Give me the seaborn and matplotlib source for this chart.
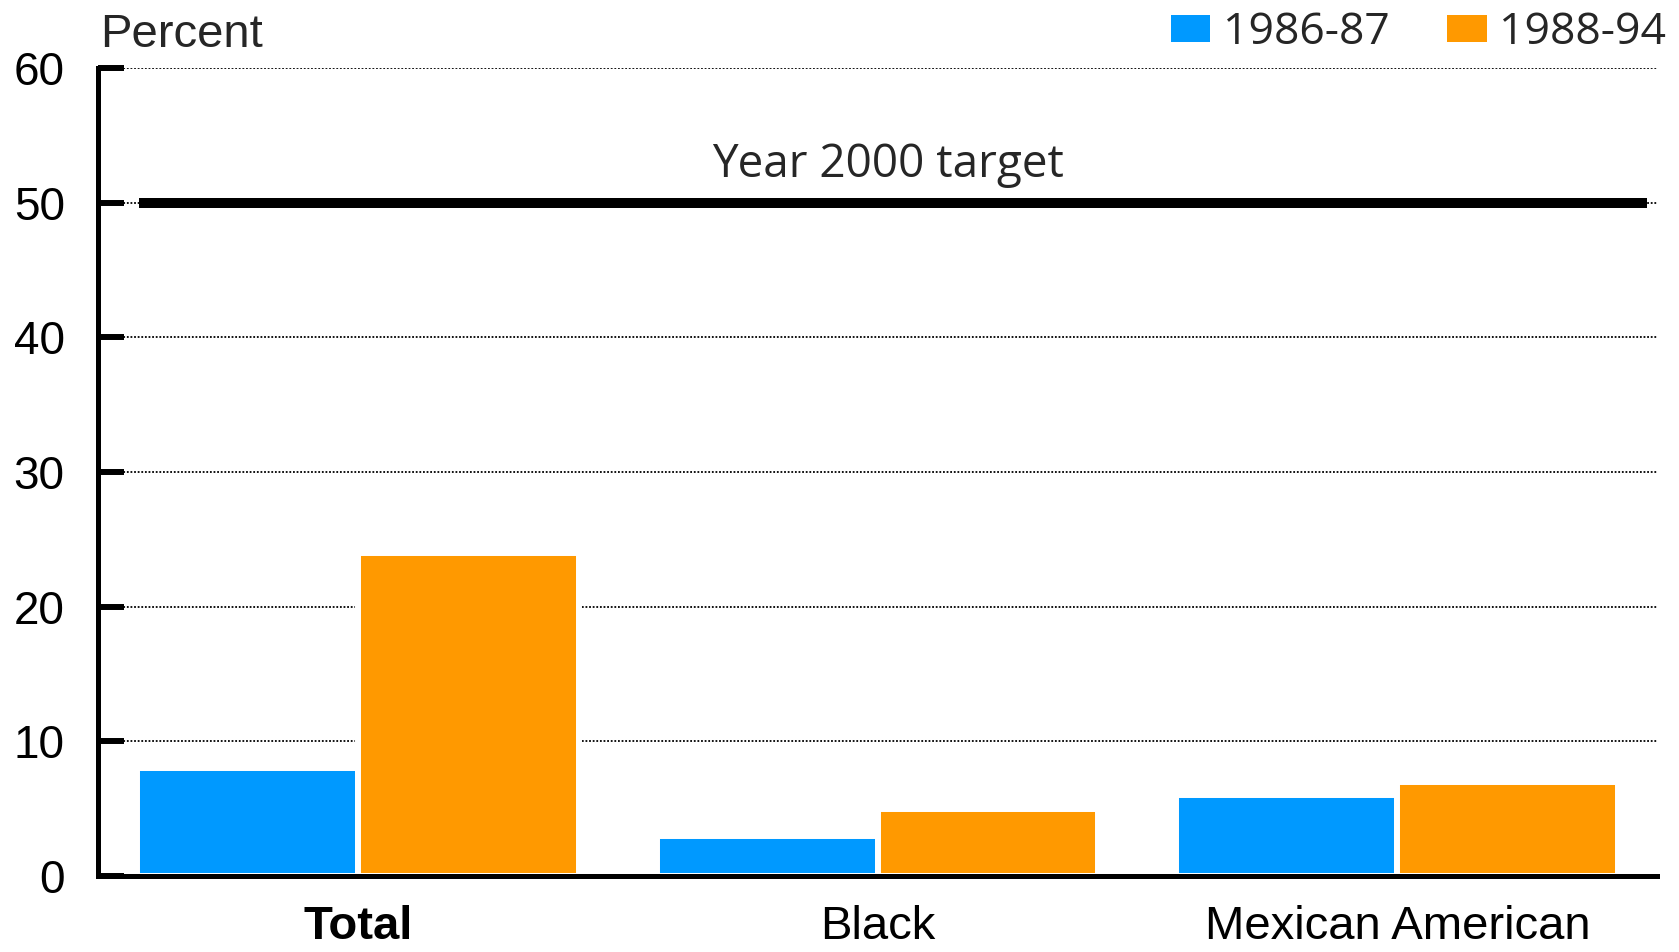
import matplotlib
matplotlib.use("Agg")
import matplotlib.pyplot as plt
from matplotlib.patches import Patch
import seaborn as sns
import pandas as pd

# dados
groups = ["Total", "Black", "Mexican American"]
periods = ["1986-87", "1988-94"]
values_1986_87 = [8, 3, 6]
values_1988_94 = [24, 5, 7]
target = 50
yticks = [0, 10, 20, 30, 40, 50, 60]

colors = ["#0099FF", "#FF9900"]

df = pd.DataFrame({
    "group": groups * 2,
    "period": [periods[0]] * 3 + [periods[1]] * 3,
    "value": values_1986_87 + values_1988_94,
})

sns.set_style("white")
plt.rcParams["font.family"] = ["Liberation Sans", "DejaVu Sans"]

fig = plt.figure(figsize=(16.79, 9.52), dpi=100)
ax = fig.add_axes([0.0584, 0.0798, 0.9286, 0.8488])

sns.barplot(data=df, x="group", y="value", hue="period", palette=colors,
            width=0.85, saturation=1, edgecolor="white", linewidth=4.3,
            errorbar=None, legend=False, ax=ax, zorder=2)

ax.set_xlim(-0.5, 2.5)
ax.set_ylim(0, 60)
ax.set_yticks(yticks)
ax.set_xlabel("")
ax.set_ylabel("")

# grade pontilhada
ax.yaxis.grid(True, linestyle=(0, (1, 1)), color="black", linewidth=1.3)
ax.set_axisbelow(True)

for s in ["top", "right"]:
    ax.spines[s].set_visible(False)
for s in ["left", "bottom"]:
    ax.spines[s].set_linewidth(3.6)
    ax.spines[s].set_color("black")
    ax.spines[s].set_zorder(5)

ax.tick_params(axis="y", left=True, direction="in", length=19, width=4.3, pad=24,
               labelsize=33, colors="black")
ax.tick_params(axis="x", bottom=False, length=0, pad=21, labelsize=34, colors="black")
for lbl in ax.get_xticklabels():
    if lbl.get_text() == "Total":
        lbl.set_fontweight("bold")

# linha da meta
ax.axhline(target, xmin=0.0263, xmax=0.9936, color="black", linewidth=7.2,
           solid_capstyle="butt", zorder=3)
ax.text(1.02, target + 2.8, "Year 2000 target", ha="center", va="center",
        fontsize=33, family=["Open Sans", "DejaVu Sans"])

fig.text(100 / 1679, 1 - 47 / 952, "Percent", ha="left", va="baseline", fontsize=34)

handles = [Patch(facecolor=c, edgecolor="none") for c in colors]
fig.legend(handles, periods, loc="upper right", bbox_to_anchor=(1666 / 1679, 0.989),
           ncol=2, frameon=False, borderpad=0, borderaxespad=0,
           handlelength=0.88, handleheight=0.56, handletextpad=0.28,
           columnspacing=1.3, prop={"family": ["Open Sans", "DejaVu Sans"], "size": 32})

plt.savefig("out.png", dpi=100)
